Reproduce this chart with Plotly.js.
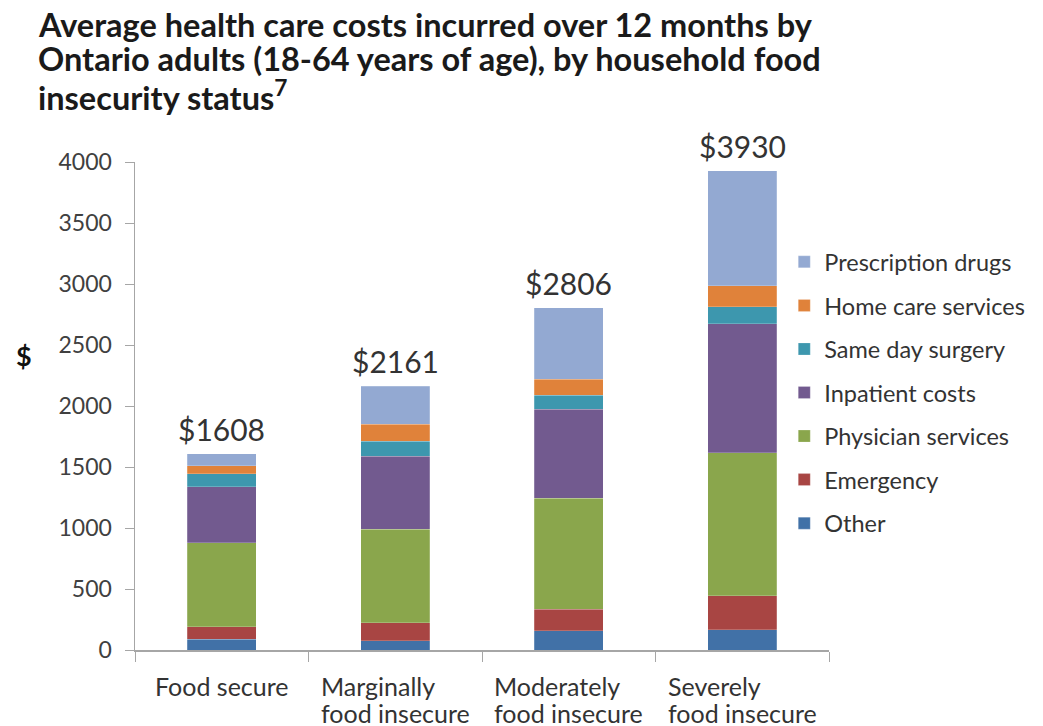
<!DOCTYPE html>
<html>
<head>
<meta charset="utf-8">
<script src="https://cdn.plot.ly/plotly-3.0.1.min.js"></script>
<style>html,body{margin:0;padding:0;background:#fff;}#chart{width:1043px;height:726px;}</style>
</head>
<body>
<div id="chart"></div>
<script>
const categories = ["Food secure", "Marginally food insecure", "Moderately food insecure", "Severely food insecure"];
const tickLabels = [["Food secure"], ["Marginally", "food insecure"], ["Moderately", "food insecure"], ["Severely", "food insecure"]];
const other        = [88, 74, 158, 164];
const emergency    = [103, 150, 176, 281];
const physician    = [689, 765, 909, 1172];
const inpatient    = [459, 601, 730, 1058];
const sameDay      = [106, 121, 115, 139];
const homeCare     = [66, 141, 133, 172];
const prescription = [97, 309, 585, 944];
const totals       = [1608, 2161, 2806, 3930];
const totalLabels  = ["$1608", "$2161", "$2806", "$3930"];
const yTickVals    = [0, 500, 1000, 1500, 2000, 2500, 3000, 3500, 4000];
const titleLines   = ["Average health care costs incurred over 12 months by",
                      "Ontario adults (18-64 years of age), by household food",
                      "insecurity status<sup>7</sup>"];

const seriesNames  = ["Other", "Emergency", "Physician services", "Inpatient costs", "Same day surgery", "Home care services", "Prescription drugs"];
const seriesValues = [other, emergency, physician, inpatient, sameDay, homeCare, prescription];
const seriesColors = ["#4171A7", "#A84543", "#8AA64C", "#725A8F", "#3D97AE", "#E0823A", "#93A9D2"];

const traces = seriesNames.map((n, i) => ({
  type: "bar",
  name: n,
  x: categories,
  y: seriesValues[i],
  legendgroup: "g" + i,
  legendrank: 100 - i,
  marker: {color: seriesColors[i], line: {color: "rgba(255,255,255,0.35)", width: 0.6}},
  hoverinfo: "name+y"
}));

const FONT = "Lato, 'Open Sans', sans-serif";
const annotations = categories.map((c, i) => ({
  x: c, y: totals[i], xref: "x", yref: "y",
  text: totalLabels[i], showarrow: false, yanchor: "bottom", yshift: 5,
  font: {family: FONT, size: 30, color: "#333333"}
}));
// category labels: left-aligned lines, block centred under each category
categories.forEach((c, i) => annotations.push({
  x: c, xref: "x", y: 0, yref: "paper", xanchor: "center", yanchor: "top", yshift: -19,
  align: "left", showarrow: false,
  text: tickLabels[i].map(s => "<span style='font-size:25px'>" + s + "</span>").join("<br>"),
  font: {family: FONT, size: 21, color: "#333333"}
}));
annotations.push({
  xref: "paper", yref: "paper", x: -0.16, y: 0.6045, xanchor: "center", yanchor: "middle",
  text: "<b>$</b>", showarrow: false, font: {family: FONT, size: 27, color: "#111111"}
});
const titleY = [1.2827, 1.2111, 1.1353];
titleLines.forEach((t, i) => annotations.push({
  xref: "paper", yref: "paper", x: -0.142, y: titleY[i], xanchor: "left", yanchor: "middle",
  text: "<b>" + t + "</b>", showarrow: false, font: {family: FONT, size: 32.5, color: "#1a1a1a"}
}));

const layout = {
  width: 1043, height: 726,
  margin: {l: 135, r: 214, t: 162, b: 76},
  paper_bgcolor: "#ffffff", plot_bgcolor: "#ffffff",
  barmode: "stack",
  bargap: 0.6,
  xaxis: {
    type: "category",
    showline: true, linecolor: "#a6a6a6", linewidth: 1.5,
    ticks: "outside", tickson: "boundaries", ticklen: 10, tickcolor: "#a6a6a6",
    showticklabels: false,
    showgrid: false, zeroline: false
  },
  yaxis: {
    range: [0, 4000], tickvals: yTickVals,
    showline: true, linecolor: "#a6a6a6", linewidth: 1.5,
    ticks: "outside", ticklen: 9, tickcolor: "#a6a6a6",
    tickfont: {family: FONT, size: 23, color: "#404040"},
    ticklabelstandoff: 8,
    showgrid: false, zeroline: false
  },
  legend: {
    traceorder: "grouped", tracegroupgap: 10,
    x: 1.29, xanchor: "right", y: 0.840, yanchor: "top",
    font: {family: FONT, size: 23.5, color: "#333333"},
    bgcolor: "rgba(0,0,0,0)"
  },
  annotations: annotations,
  showlegend: true
};

Plotly.newPlot("chart", traces, layout, {displayModeBar: false, staticPlot: true});
</script>
</body>
</html>
